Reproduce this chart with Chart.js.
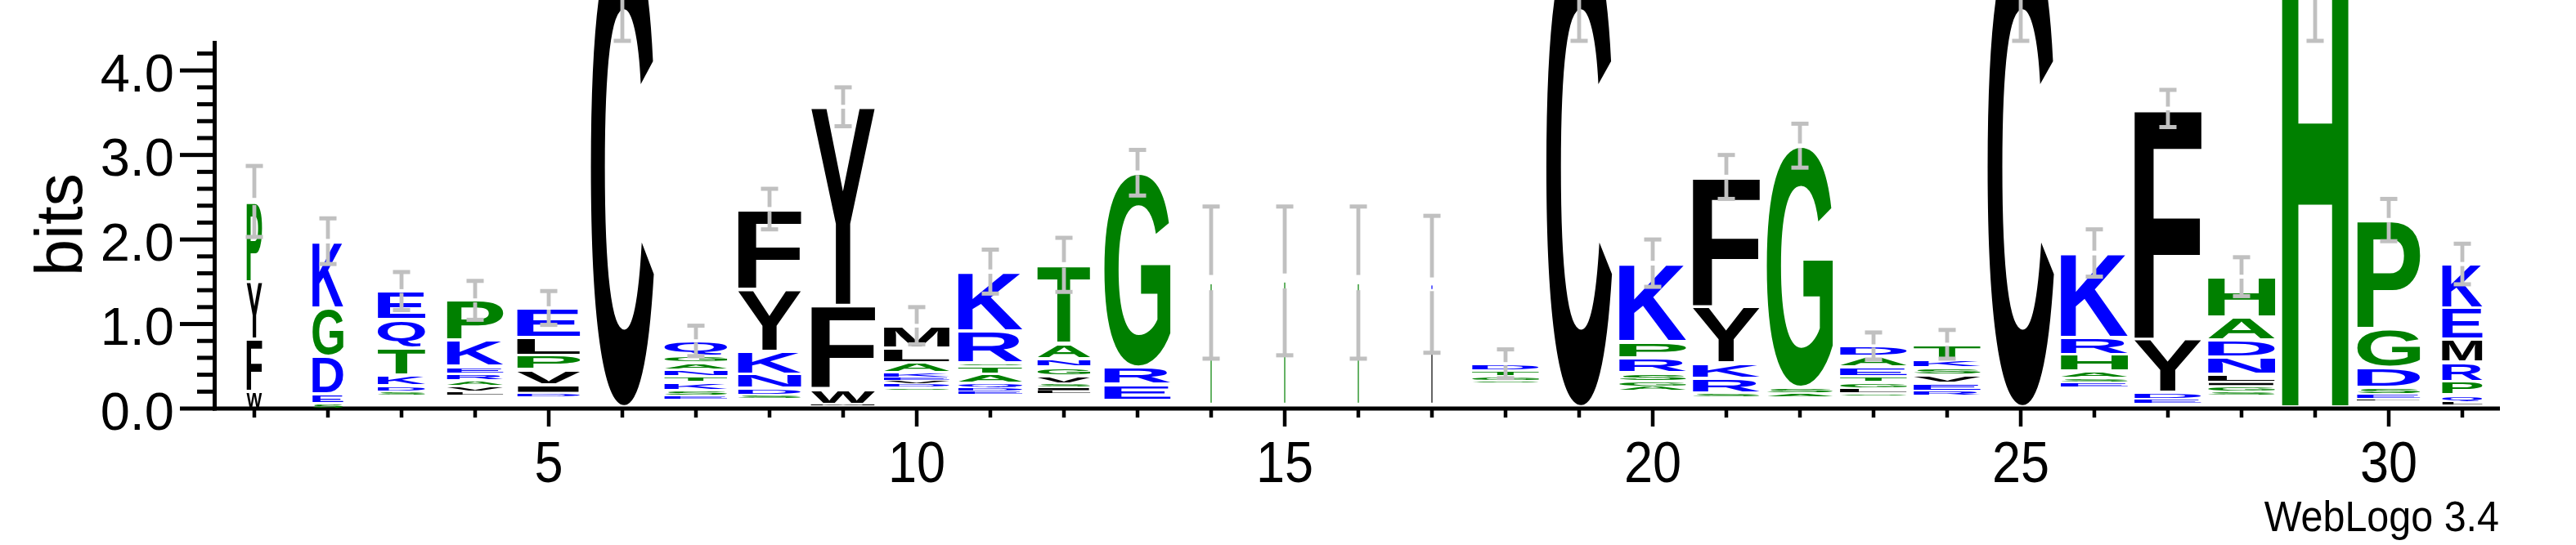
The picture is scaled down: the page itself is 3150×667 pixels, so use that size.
<!DOCTYPE html>
<html><head><meta charset="utf-8">
<script src="https://cdn.jsdelivr.net/npm/chart.js@4.4.0/dist/chart.umd.min.js"></script>
<style>html,body{margin:0;padding:0;background:#fff;overflow:hidden}#wrap{width:3150px;height:667px;position:relative}</style>
</head><body><div id="wrap"><canvas id="c" width="3150" height="667" style="width:3150px;height:667px"></canvas></div>
<script>
// Sequence positions
const positions = [1,2,3,4,5,6,7,8,9,10,11,12,13,14,15,16,17,18,19,20,21,22,23,24,25,26,27,28,29,30,31];
// Residues in each stack, bottom -> top ('.' = residues too small to be drawn)
const stackLetters = [
  "WFYP", "SEDGK", ".SDKTQE", ".LVAREKP", ".DIVPLE", ".C", ".ESKTNAGQ", ".SDNKYF",
  ".MWFY", ".SDVEKALM", ".EDQATSRK", ".LISVGNAT", ".ERG", ".G", ".G", ".G",
  ".FK", ".SGTD", ".C", ".AGSRPK", ".SRKYF", ".ASG", ".SLGTEAD", ".REVSKT",
  ".C", ".ESAHRK", ".EDYF", ".SGILNDAH", ".H", ".LESDGP", ".LQPRMEK"
];
// Height (bits) of each residue in the stack, same order
const stackHeights = [
  [0.2,0.62,0.68,0.95],
  [0.06,0.11,0.45,0.57,0.79],
  [0.16,0.04,0.07,0.13,0.32,0.33,0.34],
  [0.16,0.04,0.07,0.06,0.08,0.09,0.31,0.47],
  [0.14,0.04,0.1,0.18,0.17,0.21,0.35],
  [0.02,5.63],
  [0.11,0.04,0.06,0.1,0.07,0.08,0.08,0.08,0.18],
  [0.12,0.04,0.08,0.17,0.27,0.73,0.95],
  [0.03,0.02,0.18,0.99,2.35],
  [0.22,0.03,0.04,0.04,0.04,0.05,0.12,0.18,0.26],
  [0.17,0.03,0.04,0.06,0.11,0.1,0.03,0.38,0.7],
  [0.18,0.03,0.04,0.04,0.1,0.1,0.1,0.18,0.93],
  [0.1,0.19,0.2,2.3],
  [0.05,1.44],
  [0.05,1.46],
  [0.05,1.44],
  [0.05,1.35,0.07],
  [0.3,0.03,0.05,0.07,0.08],
  [0.02,5.63],
  [0.21,0.05,0.06,0.1,0.18,0.19,0.93],
  [0.14,0.04,0.18,0.18,0.67,1.53],
  [0.14,0.04,0.07,2.86],
  [0.15,0.03,0.06,0.07,0.07,0.11,0.13,0.12],
  [0.15,0.05,0.1,0.1,0.08,0.1,0.18],
  [0.02,5.63],
  [0.25,0.06,0.05,0.08,0.2,0.2,1.0],
  [0.06,0.05,0.08,0.63,2.73],
  [0.16,0.04,0.07,0.04,0.1,0.2,0.2,0.27,0.48],
  [0.02,5.63],
  [0.09,0.02,0.06,0.08,0.24,0.46,1.28],
  [0.04,0.03,0.09,0.16,0.23,0.27,0.37,0.52]
];
// Error (bits, +/-) at top of each stack
const errorBars = [0.42,0.27,0.225,0.23,0.2,1.3,0.18,0.24,0.23,0.22,0.26,0.32,0.27,0.9,0.88,0.9,0.81,0.17,1.3,0.28,0.26,0.26,0.16,0.17,1.3,0.28,0.22,0.23,1.3,0.25,0.24];
// Fraction of sequences occupying each position (stack width)
const occupancy = [0.23,0.46,0.71,0.84,0.94,0.94,0.94,0.94,0.95,0.98,0.96,0.79,0.99,0.012,0.012,0.012,0.012,1,0.98,1,1,0.99,1,1,0.99,1,1,1,0.99,0.94,0.6];
const yTickLabels = ["0.0","1.0","2.0","3.0","4.0"];
const xTickLabels = ["5","10","15","20","25","30"];
const yAxisTitle = "bits";
const footerText = "WebLogo 3.4";

const BLACK = "#000000", GREEN = "#008000", BLUE = "#0000ff";
const letterColor = {
  C:BLACK,F:BLACK,Y:BLACK,W:BLACK,M:BLACK,V:BLACK,L:BLACK,I:BLACK,
  G:GREEN,P:GREEN,T:GREEN,H:GREEN,A:GREEN,S:GREEN,
  K:BLUE,R:BLUE,D:BLUE,E:BLUE,Q:BLUE,N:BLUE
};

const maxRank = Math.max(...stackLetters.map(s => s.length));
const datasets = [];
for (let r = 0; r < maxRank; r++) {
  const pts = [];
  positions.forEach((p, i) => {
    if (r >= stackLetters[i].length) return;
    let base = 0;
    for (let k = 0; k < r; k++) base += stackHeights[i][k];
    pts.push({ x: p, y: [base, base + stackHeights[i][r]], letter: stackLetters[i][r], col: i });
  });
  datasets.push({
    label: "rank " + r,
    data: pts,
    backgroundColor: "rgba(0,0,0,0)",
    borderWidth: 0,
    grouped: false,
    barPercentage: 1,
    categoryPercentage: 1
  });
}
const stackTops = stackHeights.map(hs => hs.reduce((a, b) => a + b, 0));

const glyphCache = {};
const GLYPH_FONT = 'bold 200px "Liberation Sans", Arial, sans-serif';
function glyphMetrics(ctx, ch) {
  if (glyphCache[ch]) return glyphCache[ch];
  ctx.save();
  ctx.font = GLYPH_FONT;
  const m = ctx.measureText(ch);
  ctx.restore();
  const g = { L: m.actualBoundingBoxLeft, R: m.actualBoundingBoxRight, A: m.actualBoundingBoxAscent, D: m.actualBoundingBoxDescent };
  glyphCache[ch] = g;
  return g;
}
function drawGlyph(ctx, ch, color, x0, y0, w, h) {
  ctx.fillStyle = color;
  if (w < 3) { ctx.fillRect(x0 + w / 2 - 0.6, y0, 1.2, h); return; }
  const g = glyphMetrics(ctx, ch);
  ctx.save();
  ctx.translate(x0, y0);
  ctx.scale(w / (g.L + g.R), h / (g.A + g.D));
  ctx.font = GLYPH_FONT;
  ctx.textAlign = "left";
  ctx.textBaseline = "alphabetic";
  ctx.fillText(ch, g.L, g.A);
  ctx.restore();
}

const logoPlugin = {
  id: "logo",
  beforeDatasetsDraw(chart) {
    const ctx = chart.ctx, xs = chart.scales.x, ys = chart.scales.y;
    const y0 = ys.getPixelForValue(0);
    ctx.save();
    ctx.fillStyle = "#000";
    const axX = xs.left - 3.5;
    ctx.fillRect(axX - 2.5, ys.top, 5, y0 + 2.5 - ys.top);
    ctx.fillRect(axX - 2.5, y0 - 2.5, xs.right + 1 - (axX - 2.5), 5);
    for (let k = 0; k <= 21; k++) {
      const py = ys.getPixelForValue(k * 0.2);
      const x1 = (k % 5 === 0) ? 220 : 241;
      ctx.fillRect(x1, py - 2.5, axX - x1, 5);
    }
    positions.forEach(p => {
      const px = xs.getPixelForValue(p);
      ctx.fillRect(px - 2.25, y0, 4.5, (p % 5 === 0) ? 22 : 11);
    });
    ctx.font = '65px "Liberation Sans", Arial, sans-serif';
    ctx.textAlign = "right";
    ctx.textBaseline = "alphabetic";
    yTickLabels.forEach(t => {
      const py = ys.getPixelForValue(parseFloat(t));
      ctx.fillText(t, 213, py + 25.5);
    });
    ctx.font = '70px "Liberation Sans", Arial, sans-serif';
    ctx.textAlign = "center";
    xTickLabels.forEach(t => {
      const px = xs.getPixelForValue(parseFloat(t));
      ctx.save(); ctx.translate(px, 590); ctx.scale(0.9, 1); ctx.fillText(t, 0, 0); ctx.restore();
    });
    ctx.save();
    ctx.translate(100, 275);
    ctx.rotate(-Math.PI / 2);
    ctx.font = '81px "Liberation Sans", Arial, sans-serif';
    ctx.textAlign = "center";
    ctx.fillText(yAxisTitle, 0, 0);
    ctx.restore();
    ctx.save();
    ctx.translate(3056, 650);
    ctx.scale(0.95, 1);
    ctx.font = '51px "Liberation Sans", Arial, sans-serif';
    ctx.textAlign = "right";
    ctx.fillText(footerText, 0, 0);
    ctx.restore();
    ctx.restore();
  },
  afterDatasetsDraw(chart) {
    const ctx = chart.ctx, xs = chart.scales.x, ys = chart.scales.y;
    const fullW = (xs.getPixelForValue(2) - xs.getPixelForValue(1)) * 0.911;
    ctx.save();
    chart.data.datasets.forEach((ds, r) => {
      const meta = chart.getDatasetMeta(r);
      ds.data.forEach((pt, j) => {
        if (pt.letter === ".") return;
        const el = meta.data[j];
        const cx = (el && isFinite(el.x)) ? el.x : xs.getPixelForValue(pt.x);
        const w = fullW * occupancy[pt.col];
        const yb = ys.getPixelForValue(pt.y[0]);
        const yt = ys.getPixelForValue(pt.y[1]);
        const hpx = yb - yt;
        const inset = Math.min(2, hpx * 0.2);
        const h = hpx - 2 * inset;
        if (h < 0.6) return;
        drawGlyph(ctx, pt.letter, letterColor[pt.letter], cx - w / 2, yt + inset, w, h);
      });
    });
    positions.forEach((p, i) => {
      const top = stackTops[i];
      const cx = xs.getPixelForValue(p);
      const pt = ys.getPixelForValue(top);
      const up = ys.getPixelForValue(top + errorBars[i]);
      const dn = ys.getPixelForValue(top - errorBars[i]);
      const gap = Math.max(2, 0.1 * (dn - pt));
      ctx.fillStyle = "#c0c0c0";
      ctx.fillRect(cx - 2.4, up, 4.8, (pt - gap) - up);
      ctx.fillRect(cx - 2.4, pt + gap, 4.8, dn - (pt + gap));
      ctx.fillRect(cx - 10.5, up - 2.5, 21, 5);
      ctx.fillRect(cx - 10.5, dn - 2.5, 21, 5);
    });
    ctx.restore();
  }
};

new Chart(document.getElementById("c"), {
  type: "bar",
  data: { datasets },
  options: {
    responsive: false,
    animation: false,
    devicePixelRatio: 1,
    layout: { padding: { left: 266, right: 94, top: 50, bottom: 167 } },
    scales: {
      x: { type: "linear", min: 0.5, max: 31.5, offset: false, display: false },
      y: { min: 0, max: 4.35, display: false }
    },
    plugins: { legend: { display: false }, tooltip: { enabled: false } }
  },
  plugins: [logoPlugin]
});
</script>
</body></html>
